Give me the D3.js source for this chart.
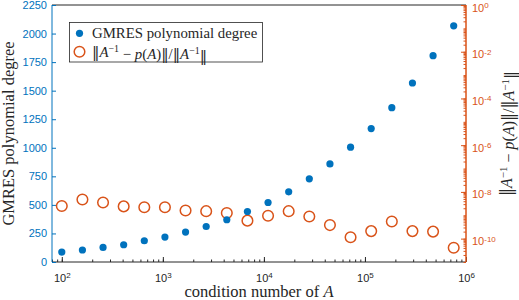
<!DOCTYPE html>
<meta charset="utf-8">
<script src="https://d3js.org/d3.v7.min.js"></script>
<style>
  body { margin: 0; background: #fff; }
  .tick text { font-family: "Liberation Sans", Arial, sans-serif; font-size: 11px; }
  .lbl { font-family: "Liberation Serif", "Times New Roman", serif; fill: #262626; }
  .nrm { font-family: "DejaVu Serif", serif; }
</style>
<body>
<div id="chart"></div>
<script>

// condition numbers (x), GMRES degree (left axis), relative error (right axis)
var kappa = [100, 160, 256, 409.6, 655.36, 1048.6, 1677.7, 2684.4, 4295, 6872,
             10995, 17592, 28147, 45036, 72058, 115292, 184467, 295148, 472237, 755579];
var degree = [87, 105, 128, 151, 186, 218, 262, 311, 370, 442,
              521, 614, 728, 859, 1005, 1168, 1351, 1567, 1806, 2068];
var relErr = [2.5e-9, 4.7e-9, 3.5e-9, 2.4e-9, 2.2e-9, 2.2e-9, 1.6e-9, 1.5e-9, 1.26e-9, 5.9e-10,
              9.5e-10, 1.5e-9, 8.9e-10, 3.8e-10, 1.15e-10, 2.1e-10, 5.4e-10, 2.1e-10, 2.0e-10, 4.1e-11];
var leftTicks = [0, 250, 500, 750, 1000, 1250, 1500, 1750, 2000, 2250];
var xMajor = [1e2, 1e3, 1e4, 1e5, 1e6];
var rightMajor = [1e0, 1e-2, 1e-4, 1e-6, 1e-8, 1e-10];

var blue = "#0072BD", orange = "#D95319", dark = "#262626";
var width = 519, height = 300;
var margin = {top: 5, right: 53, bottom: 38, left: 52};
var w = width - margin.left - margin.right,
    h = height - margin.top - margin.bottom;

var svg = d3.select("#chart").append("svg")
    .attr("width", width).attr("height", height);
var g = svg.append("g").attr("transform", "translate(" + margin.left + "," + margin.top + ")");

var x = d3.scaleLog().domain([80, 1e6]).range([0, w]);
var yL = d3.scaleLinear().domain([0, 2250]).range([h, 0]);
var yR = d3.scaleLog().domain([1e-11, 1]).range([h, 0]);

// minor tick values for log axes
function minors(lo, hi) {
  var out = [];
  for (var e = Math.floor(Math.log10(lo)); e <= Math.ceil(Math.log10(hi)); e++) {
    for (var m = 1; m < 10; m++) {
      var v = m * Math.pow(10, e);
      if (v >= lo && v <= hi) out.push(v);
    }
  }
  return out;
}

function supLabel(sel, exp) {
  sel.text("10").append("tspan").attr("dy", "-0.45em").attr("font-size", "8px").text(exp);
}

// x axis
var xAx = g.append("g").attr("transform", "translate(0," + h + ")");
xAx.call(d3.axisBottom(x).tickValues(minors(80, 1e6)).tickSize(-2.5).tickFormat(""));
var xMaj = xAx.append("g").call(d3.axisBottom(x).tickValues(xMajor).tickSize(-5).tickPadding(8).tickFormat(""));
xAx.selectAll(".domain").remove();
xAx.selectAll("line").attr("stroke", dark);
xMaj.selectAll(".tick text").each(function (d) {
  supLabel(d3.select(this), String(Math.round(Math.log10(d))));
}).attr("fill", dark).attr("dy", "1.05em");

// frame lines top / bottom
g.append("line").attr("x1", 0).attr("x2", w).attr("y1", h).attr("y2", h).attr("stroke", dark);
g.append("line").attr("x1", 0).attr("x2", w).attr("y1", 0).attr("y2", 0).attr("stroke", dark);

// left axis
var lAx = g.append("g").call(d3.axisLeft(yL).tickValues(leftTicks).tickSize(-4).tickPadding(5)
  .tickFormat(d3.format("d")));
lAx.selectAll("line").attr("stroke", blue);
lAx.select(".domain").attr("stroke", blue).attr("d", "M0," + h + "V0");
lAx.selectAll("text").attr("fill", blue);

// right axis
var rAx = g.append("g").attr("transform", "translate(" + w + ",0)");
rAx.call(d3.axisRight(yR).tickValues(minors(1e-11, 1)).tickSize(-2.5).tickFormat(""));
rAx.append("g").call(d3.axisRight(yR).tickValues(rightMajor).tickSize(-5).tickPadding(6).tickFormat(""))
  .selectAll(".tick text").each(function (d) {
    supLabel(d3.select(this), String(Math.round(Math.log10(d))));
  }).attr("dy", "0.55em");
rAx.selectAll(".domain").attr("stroke", orange).attr("d", "M0," + h + "V0");
rAx.selectAll("line").attr("stroke", orange);
rAx.selectAll("text").attr("fill", orange);

// data
var pts = kappa.map(function (k, i) { return {k: k, d: degree[i], e: relErr[i]}; });

g.selectAll(".err").data(pts).enter().append("circle")
  .attr("class", "err")
  .attr("cx", function (d) { return x(d.k); })
  .attr("cy", function (d) { return yR(d.e); })
  .attr("r", 5.3)
  .attr("fill", "none").attr("stroke", orange).attr("stroke-width", 1.5);

g.selectAll(".deg").data(pts).enter().append("circle")
  .attr("class", "deg")
  .attr("cx", function (d) { return x(d.k); })
  .attr("cy", function (d) { return yL(d.d); })
  .attr("r", 3.6)
  .attr("fill", blue);

// norm label helper
function normLabel(t, fs) {
  var sup = Math.round(fs * 0.7) + "px";
  t.append("tspan").attr("class", "nrm").text("\u2016");
  t.append("tspan").attr("font-style", "italic").text("A");
  t.append("tspan").attr("dy", "-0.45em").attr("font-size", sup).text("\u22121");
  t.append("tspan").attr("dy", "0.45em").text(" \u2212 ");
  t.append("tspan").attr("font-style", "italic").text("p");
  t.append("tspan").text("(");
  t.append("tspan").attr("font-style", "italic").text("A");
  t.append("tspan").text(")");
  t.append("tspan").attr("class", "nrm").text("\u2016");
  t.append("tspan").text("/");
  t.append("tspan").attr("class", "nrm").text("\u2016");
  t.append("tspan").attr("font-style", "italic").text("A");
  t.append("tspan").attr("dy", "-0.45em").attr("font-size", sup).text("\u22121");
  t.append("tspan").attr("dy", "0.45em").attr("class", "nrm").text("\u2016");
}

// legend
var lg = svg.append("g");
lg.append("rect").attr("x", 69.5).attr("y", 22.5).attr("width", 193).attr("height", 39.5)
  .attr("fill", "#fff").attr("stroke", dark).attr("stroke-width", 0.8);
lg.append("circle").attr("cx", 79.5).attr("cy", 33.3).attr("r", 3.6).attr("fill", blue);
lg.append("circle").attr("cx", 79.5).attr("cy", 51.7).attr("r", 5.3)
  .attr("fill", "none").attr("stroke", orange).attr("stroke-width", 1.5);
lg.append("text").attr("class", "lbl").attr("x", 92).attr("y", 38).attr("font-size", "14.8px")
  .text("GMRES polynomial degree");
normLabel(lg.append("text").attr("class", "lbl").attr("x", 92).attr("y", 56.5).attr("font-size", "14.8px"), 14.8);

// axis labels
svg.append("text").attr("class", "lbl").attr("font-size", "16.5px")
  .attr("text-anchor", "middle")
  .attr("transform", "translate(13.5," + (margin.top + h / 2) + ") rotate(-90)")
  .text("GMRES polynomial degree");

var xl = svg.append("text").attr("class", "lbl").attr("font-size", "16.5px")
  .attr("text-anchor", "middle").attr("x", margin.left + w / 2).attr("y", 297);
xl.append("tspan").text("condition number of ");
xl.append("tspan").attr("font-style", "italic").text("A");

normLabel(svg.append("text").attr("class", "lbl").attr("font-size", "16px")
  .attr("text-anchor", "middle")
  .attr("transform", "translate(512," + (margin.top + h / 2) + ") rotate(-90)"), 16);

</script>
</body>
